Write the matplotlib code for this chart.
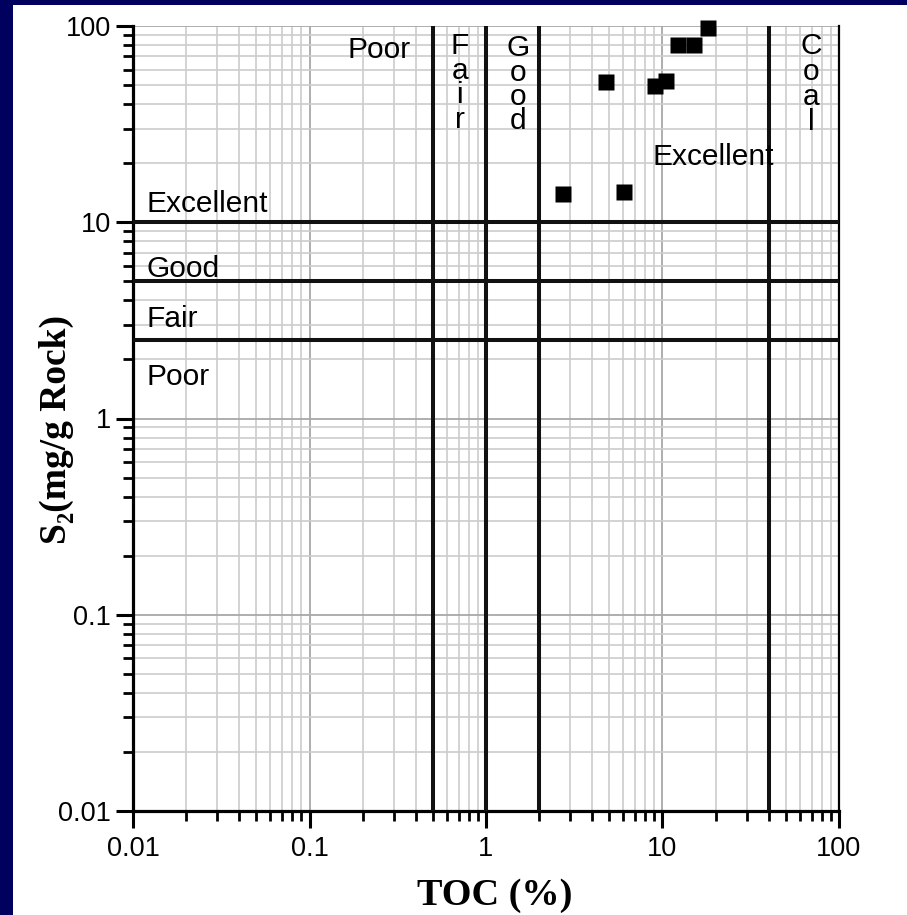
import numpy as np
import matplotlib.pyplot as plt
from matplotlib.patches import Rectangle
from matplotlib.ticker import LogLocator, FuncFormatter, NullFormatter

# Sample data: TOC (%) vs S2 (mg HC / g rock)
toc = [2.73, 4.79, 6.05, 9.07, 10.5, 12.3, 15.1, 18.0]
s2 = [13.9, 51.9, 14.3, 49.4, 52.5, 80.0, 80.0, 98.0]

# Source-rock quality cut-offs
toc_limits = [0.5, 1, 2, 40]
s2_limits = [10, 5, 2.5]

navy = '#00005e'
sans = ['Liberation Sans', 'DejaVu Sans']
serif = ['Liberation Serif', 'DejaVu Serif']

fig = plt.figure(figsize=(9.07, 9.15), dpi=100)
fig.patch.set_facecolor(navy)
fig.patches.append(Rectangle((13 / 907, 0), 1, 1 - 5 / 915, transform=fig.transFigure,
                             facecolor='white', edgecolor='none', zorder=-10))

ax = fig.add_axes([133 / 907, 1 - 811 / 915, 706 / 907, 785 / 915])
ax.set_zorder(1)
ax.set_xscale('log')
ax.set_yscale('log')
ax.set_xlim(0.01, 100)
ax.set_ylim(0.01, 100)

# grid
ax.xaxis.set_minor_locator(LogLocator(base=10, subs=np.arange(2, 10)))
ax.yaxis.set_minor_locator(LogLocator(base=10, subs=np.arange(2, 10)))
ax.grid(True, which='major', color='#a8a8a8', lw=1.3)
ax.grid(True, which='minor', color='#cccccc', lw=1.2)
ax.set_axisbelow(True)

# quality boundaries
for v in toc_limits:
    ax.axvline(v, color='#111111', lw=2.9, zorder=3)
for h in s2_limits:
    ax.axhline(h, color='#111111', lw=2.9, zorder=3)

ax.plot(toc, s2, 's', ms=11.4, color='black', mec='none', zorder=5, clip_on=False)

# region labels
lab = dict(fontsize=21.5, family=sans, color='black', zorder=4)
ax.text(0.165, 68.7, 'Poor', ha='left', va='baseline', **lab)
ax.text(0.713, 93, 'F\na\ni\nr', ha='center', va='top', linespacing=0.84, **lab)
ax.text(1.52, 91, 'G\no\no\nd', ha='center', va='top', linespacing=0.84, **lab)
ax.text(69.3, 93, 'C\no\na\nl', ha='center', va='top', linespacing=0.88, **lab)
ax.text(8.83, 19.6, 'Excellent', ha='left', va='baseline', **lab)
ax.text(0.01185, 11.3, 'Excellent', ha='left', va='baseline', **lab)
ax.text(0.01185, 5.26, 'Good', ha='left', va='baseline', **lab)
ax.text(0.01185, 2.92, 'Fair', ha='left', va='baseline', **lab)
ax.text(0.01185, 1.48, 'Poor', ha='left', va='baseline', **lab)

# axes styling
for side in ['left', 'bottom']:
    ax.spines[side].set_linewidth(2.3)
ax.spines['right'].set_linewidth(1.6)
ax.spines['top'].set_visible(False)

fmt = FuncFormatter(lambda v, p: '%g' % v)
ax.xaxis.set_major_formatter(fmt)
ax.yaxis.set_major_formatter(fmt)
ax.xaxis.set_minor_formatter(NullFormatter())
ax.yaxis.set_minor_formatter(NullFormatter())
ax.tick_params(which='major', direction='out', length=12, width=2.2, pad=6)
ax.tick_params(axis='y', which='major', pad=4)
ax.tick_params(which='minor', direction='out', length=7, width=2.0)
ax.tick_params(top=False, right=False, which='both')
for t in ax.get_xticklabels() + ax.get_yticklabels():
    t.set_fontfamily(sans)
    t.set_fontsize(19.5)

ax.set_xlabel('TOC (%)', fontsize=27.5, fontweight='bold', family=serif)
ax.set_ylabel('S\u2082(mg/g Rock)', fontsize=27, fontweight='bold', family=serif)
ax.xaxis.set_label_coords((495 - 133) / 706, (811 - 878) / 785)
ax.yaxis.set_label_coords((74 - 133) / 706, (811 - 429) / 785)

fig.savefig('out.png', dpi=100, facecolor=fig.get_facecolor())
